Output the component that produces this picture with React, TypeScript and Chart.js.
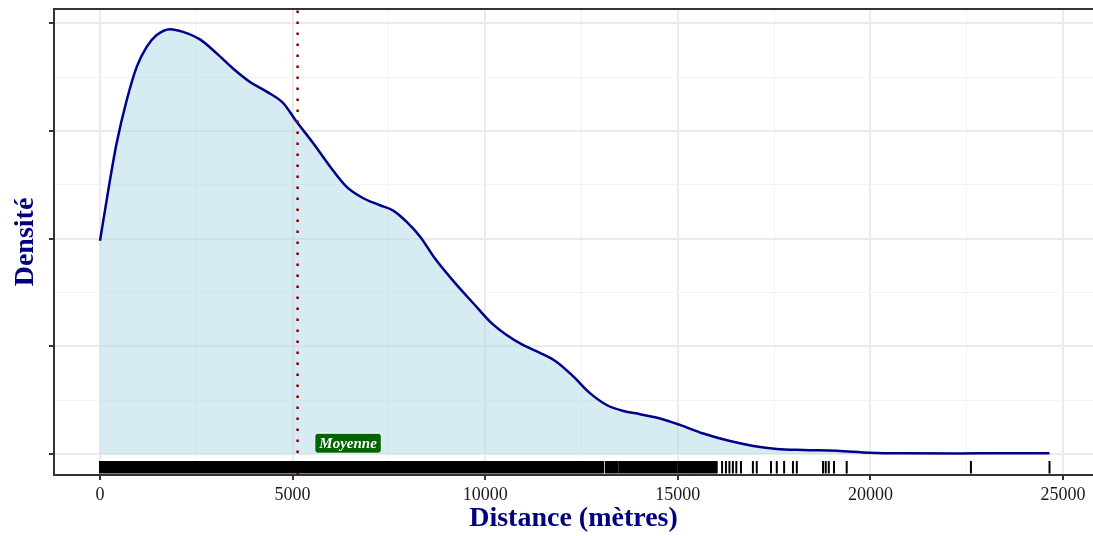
import { useEffect, useRef } from "react";
import { Chart, registerables } from "chart.js";

Chart.register(...registerables);

// Kernel density estimate of the distances (metres)
const densityX = [
  0, 174, 260, 434, 693, 953, 1212, 1472, 1817, 2155, 2596, 3029, 3453, 3894, 4327, 4751,
  5106, 5537, 5971, 6404, 6835, 7269, 7614, 7962, 8307, 8697, 9260, 9691, 10124, 10558,
  10989, 11422, 11856, 12287, 12720, 13154, 13585, 14018, 14538, 15056, 15662, 16355,
  16960, 17567, 18258, 19125, 19989, 20854, 22330, 23364, 24650,
];
const densityY = [
  3.96e-5, 4.72e-5, 5.09e-5, 5.78e-5, 6.57e-5, 7.19e-5, 7.56e-5, 7.78e-5, 7.89e-5, 7.84e-5,
  7.7e-5, 7.44e-5, 7.16e-5, 6.91e-5, 6.73e-5, 6.52e-5, 6.17e-5, 5.77e-5, 5.34e-5, 4.96e-5,
  4.75e-5, 4.62e-5, 4.52e-5, 4.31e-5, 4.04e-5, 3.63e-5, 3.14e-5, 2.8e-5, 2.46e-5, 2.21e-5,
  2.02e-5, 1.88e-5, 1.71e-5, 1.44e-5, 1.13e-5, 0.91e-5, 0.8e-5, 0.74e-5, 0.66e-5, 0.54e-5,
  0.38e-5, 0.24e-5, 0.15e-5, 0.093e-5, 0.074e-5, 0.061e-5, 0.024e-5, 0.013e-5, 0.011e-5,
  0.013e-5, 0.013e-5,
];

// Mean distance and its annotation
const meanDistance = 5130;
const meanLabel = "Moyenne";
const meanLabelX = 6440;
const meanLabelY = 2.0e-6;

// Rug: stretches where observations are packed together, then isolated observations
const rugSpans: [number, number][] = [
  [0, 13060],
  [13130, 13440],
  [13490, 14960],
  [15010, 15380],
  [15420, 16010],
];
const rugMarks = [
  16150, 16250, 16340, 16430, 16520, 16640, 16950, 17050, 17420, 17570, 17760, 17990,
  18090, 18770, 18840, 18920, 19055, 19385, 22610, 24650,
];

// Axis extents, major and minor ticks
const xMin = -1194;
const xMax = 25779;
const xMajorTicks = [0, 5000, 10000, 15000, 20000, 25000];
const xMinorTicks = [2500, 7500, 12500, 17500, 22500];
const yMin = -3.9e-6;
const yMax = 8.264e-5;
const yMajorTicks = [0, 2e-5, 4e-5, 6e-5, 8e-5];
const yMinorTicks = [1e-5, 3e-5, 5e-5, 7e-5];

const navy = "#000080";
const axisDark = "#333333";
const gridMajor = "#EBEBEB";
const gridMinor = "#F3F3F3";

const tickList = (major: number[], minor: number[]) =>
  [...major.map((v) => ({ value: v, major: true })), ...minor.map((v) => ({ value: v, major: false }))].sort(
    (a, b) => a.value - b.value
  );

const isMajor = (c: any) => !!(c.tick && c.tick.major);

const overlayPlugin = {
  id: "densityOverlay",
  afterDatasetsDraw(chart: any) {
    const { ctx, chartArea, scales } = chart;
    const x = scales.x;
    const y = scales.y;
    ctx.save();

    // rug along the bottom of the panel
    const rugTop = chartArea.bottom - 0.03 * (chartArea.bottom - chartArea.top);
    const rugBottom = chartArea.bottom - 1.5;
    ctx.fillStyle = "#000";
    for (const [a, b] of rugSpans) {
      const xa = x.getPixelForValue(a) - 1;
      const xb = x.getPixelForValue(b) + 1;
      ctx.fillRect(xa, rugTop, xb - xa, rugBottom - rugTop);
    }
    for (const v of rugMarks) {
      const px = x.getPixelForValue(v);
      ctx.fillRect(px - 1, rugTop, 2, rugBottom - rugTop);
    }

    // label next to the mean line
    ctx.font = 'italic bold 15px "Liberation Serif"';
    const tw = ctx.measureText(meanLabel).width;
    const cx = x.getPixelForValue(meanLabelX);
    const cy = y.getPixelForValue(meanLabelY);
    const bw = tw + 9;
    const bh = 20;
    ctx.beginPath();
    ctx.roundRect(cx - bw / 2, cy - bh / 2, bw, bh, 3);
    ctx.fillStyle = "#006400";
    ctx.fill();
    ctx.lineWidth = 1;
    ctx.strokeStyle = "#ffffff";
    ctx.stroke();
    ctx.fillStyle = "#ffffff";
    ctx.textAlign = "center";
    ctx.textBaseline = "middle";
    ctx.fillText(meanLabel, cx, cy + 1);

    // top edge of the panel
    ctx.strokeStyle = axisDark;
    ctx.lineWidth = 2;
    ctx.beginPath();
    ctx.moveTo(chartArea.left - 1, chartArea.top);
    ctx.lineTo(chartArea.right + 6, chartArea.top);
    ctx.stroke();

    ctx.restore();
  },
};

export default function App() {
  const canvasRef = useRef<HTMLCanvasElement | null>(null);

  useEffect(() => {
    if (!canvasRef.current) return;
    const chart = new Chart(canvasRef.current, {
      type: "line",
      data: {
        datasets: [
          {
            label: "Moyenne",
            data: [
              { x: meanDistance, y: yMin },
              { x: meanDistance, y: yMax },
            ],
            borderColor: "#8B0000",
            borderWidth: 2.5,
            borderDash: [2.5, 8.5],
            borderCapStyle: "butt",
            pointRadius: 0,
            fill: false,
            tension: 0,
          },
          {
            label: "Densité",
            data: densityX.map((v, i) => ({ x: v, y: densityY[i] })),
            borderColor: "#00008B",
            borderWidth: 2.5,
            backgroundColor: "rgba(173, 216, 230, 0.5)",
            fill: "origin",
            pointRadius: 0,
            cubicInterpolationMode: "monotone",
          },
        ],
      },
      options: {
        animation: false,
        responsive: false,
        devicePixelRatio: 1,
        layout: { padding: { top: 9, left: 0, right: 0, bottom: 0 } },
        plugins: {
          legend: { display: false },
          tooltip: { enabled: false },
        },
        scales: {
          x: {
            type: "linear",
            min: xMin,
            max: xMax,
            afterBuildTicks: (axis: any) => {
              axis.ticks = tickList(xMajorTicks, xMinorTicks);
            },
            afterFit: (axis: any) => {
              axis.height = 61;
            },
            ticks: {
              autoSkip: false,
              maxRotation: 0,
              padding: 4,
              color: "#1a1a1a",
              font: { family: '"Liberation Serif"', size: 18 },
              callback: function (this: any, v: any, i: number, ticks: any[]) {
                return ticks[i] && ticks[i].major ? String(v) : "";
              },
            },
            grid: {
              color: (c: any) => (isMajor(c) ? gridMajor : gridMinor),
              lineWidth: (c: any) => (isMajor(c) ? 2 : 1),
              tickLength: 5,
              tickColor: (c: any) => (isMajor(c) ? axisDark : "rgba(0,0,0,0)"),
              tickWidth: (c: any) => (isMajor(c) ? 2 : 0),
            },
            border: { display: true, color: axisDark, width: 2 },
            title: {
              display: true,
              text: "Distance (mètres)",
              color: navy,
              font: { family: '"Liberation Serif"', size: 28, weight: "bold" },
              padding: { top: 0, bottom: 0 },
            },
          },
          y: {
            type: "linear",
            min: yMin,
            max: yMax,
            afterBuildTicks: (axis: any) => {
              axis.ticks = tickList(yMajorTicks, yMinorTicks);
            },
            afterFit: (axis: any) => {
              axis.width = 54;
            },
            ticks: {
              display: false,
            },
            grid: {
              color: (c: any) => (isMajor(c) ? gridMajor : gridMinor),
              lineWidth: (c: any) => (isMajor(c) ? 2 : 1),
              tickLength: 5,
              tickColor: (c: any) => (isMajor(c) ? axisDark : "rgba(0,0,0,0)"),
              tickWidth: (c: any) => (isMajor(c) ? 2 : 0),
            },
            border: { display: true, color: axisDark, width: 2 },
            title: {
              display: true,
              text: "Densité",
              color: navy,
              font: { family: '"Liberation Serif"', size: 28, weight: "bold" },
              padding: { top: 9, bottom: 0 },
            },
          },
        },
      },
      plugins: [overlayPlugin],
    });
    return () => chart.destroy();
  }, []);

  return (
    <div style={{ position: "fixed", left: 0, top: 0, width: 1093, height: 536, background: "#fff" }}>
      <canvas ref={canvasRef} width={1093} height={536} style={{ display: "block" }} />
    </div>
  );
}
